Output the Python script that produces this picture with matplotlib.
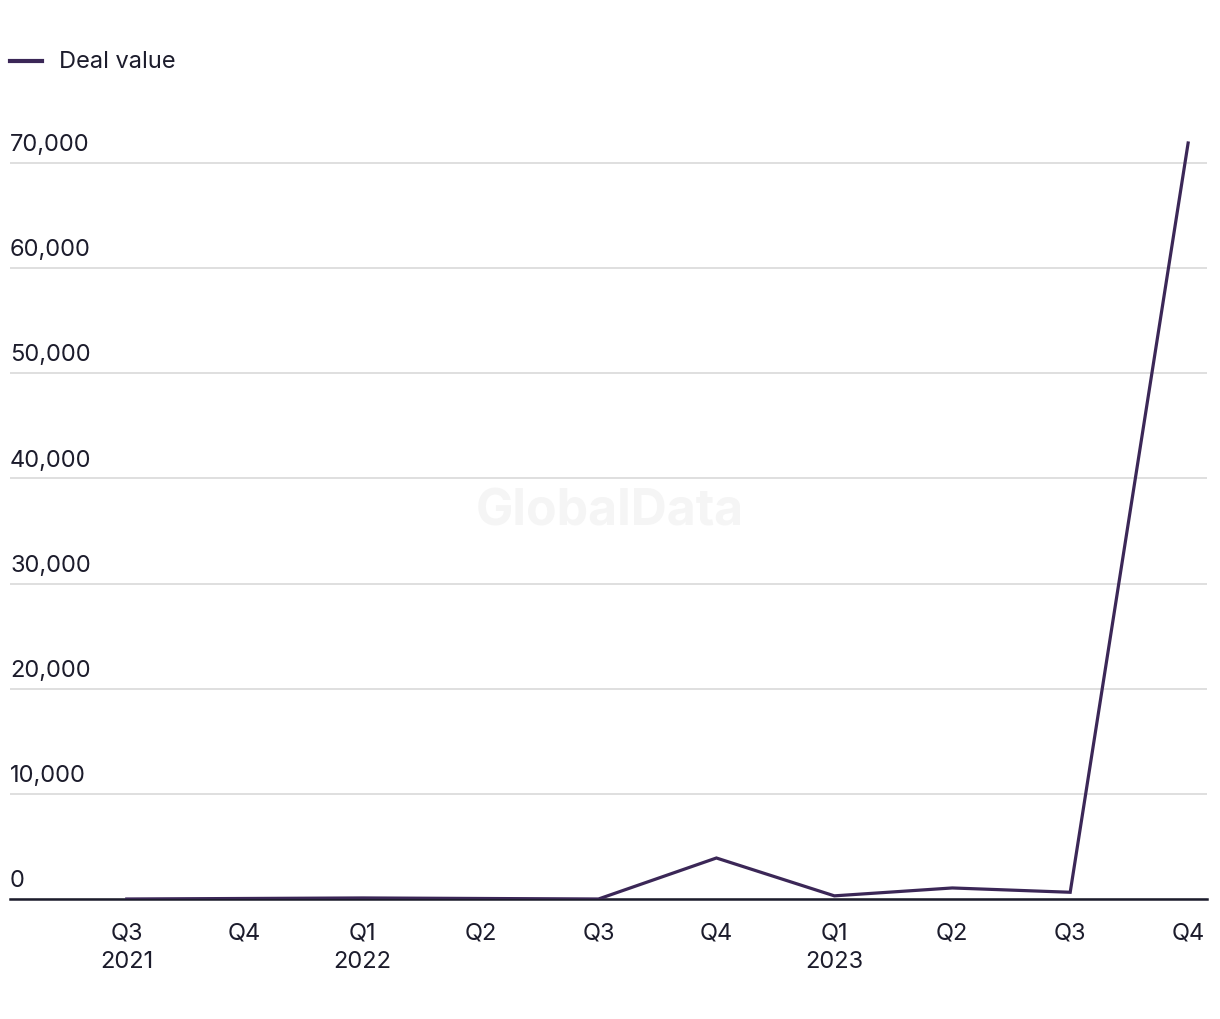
import matplotlib
matplotlib.use("Agg")
import matplotlib.pyplot as plt

quarters = ["Q3\n2021", "Q4", "Q1\n2022", "Q2", "Q3", "Q4", "Q1\n2023", "Q2", "Q3", "Q4"]
deal_value = [0, 50, 100, 50, 0, 3900, 300, 1050, 640, 71900]
yticks = [0, 10000, 20000, 30000, 40000, 50000, 60000, 70000]

line_color = "#3b2757"
text_color = "#1c1c2c"

plt.rcParams['font.family'] = ['Inter', 'DejaVu Sans']

fig = plt.figure(figsize=(12.2, 10.2), dpi=100)
# axes: left edge x=10, right x=1207, bottom y=900, top y~111
ax = fig.add_axes([10 / 1220, 1 - 900 / 1020, 1197 / 1220, (900 - 111.4) / 1020])

x = list(range(len(quarters)))
ax.plot(x, deal_value, color=line_color, linewidth=2.3, solid_joinstyle="miter", zorder=3)

ax.set_xlim(-0.99, 9.16)
ax.set_ylim(0, 75000)

ax.set_yticks(yticks)
ax.set_yticklabels([])
ax.yaxis.grid(True, color="#d9d9d9", linewidth=1.2)
ax.set_axisbelow(True)
ax.tick_params(axis="y", length=0)
for v in yticks:
    ax.text(0.0, v + 750, f"{v:,}", transform=ax.get_yaxis_transform(),
            ha="left", va="bottom", fontsize=17, color=text_color)

ax.set_xticks(x)
ax.set_xticklabels(quarters, fontsize=17, color=text_color, linespacing=1.4)
ax.tick_params(axis="x", length=0, pad=16)

for s in ["top", "right", "left"]:
    ax.spines[s].set_visible(False)
ax.spines["bottom"].set_color(text_color)
ax.spines["bottom"].set_linewidth(1.8)
ax.spines["bottom"].set_zorder(2)

ax.text(610 / 1220, 1 - 512 / 1020, "GlobalData", transform=fig.transFigure,
        ha="center", va="center", fontsize=36, fontweight="bold", color="#f5f5f5", zorder=0)

# legend
fig.lines.append(plt.Line2D([10 / 1220, 42 / 1220], [1 - 62 / 1020, 1 - 62 / 1020],
                            transform=fig.transFigure, color=line_color, linewidth=3))
fig.text(59 / 1220, 1 - 62 / 1020, "Deal value", ha="left", va="center",
         fontsize=17, color=text_color)

fig.savefig("out.png", dpi=100, facecolor="white")
